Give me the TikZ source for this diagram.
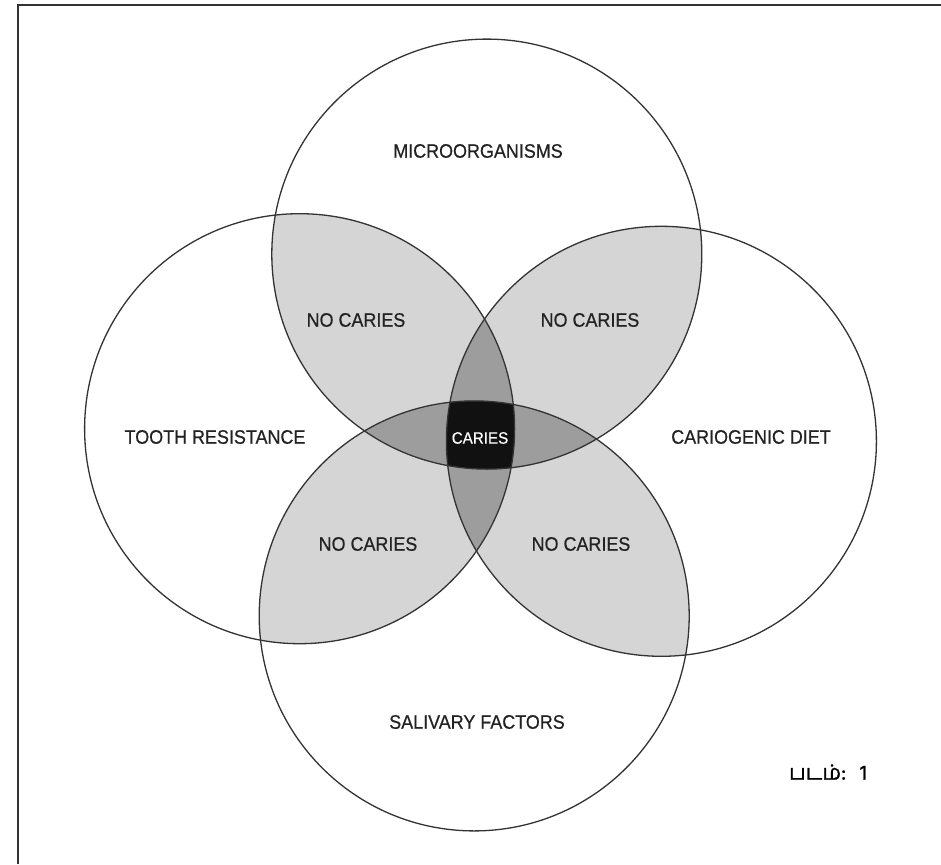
\documentclass[tikz,border=0pt]{standalone}
\usepackage{fontspec}
\setmainfont{Liberation Sans}[FakeStretch=0.92,FakeBold=0.6]
\newfontfamily\tamilfont[Script=Tamil,FakeBold=1.2]{Hind Madurai}
\definecolor{petal}{HTML}{D5D5D5}
\definecolor{triple}{HTML}{9D9D9D}
\definecolor{quad}{HTML}{111111}
\definecolor{ink}{HTML}{222222}
\definecolor{edge}{HTML}{333333}
\begin{document}
\begin{tikzpicture}[x=1pt,y=-1pt,
  lbl/.style={font=\fontsize{19.5}{20}\selectfont, text=ink, inner sep=0pt},
  ring/.style={draw=edge, line width=1.3pt},
  frameline/.style={draw=edge, line width=1.4pt}]
\useasboundingbox (0,0) rectangle (941,864);
\def\cT{(486.8,254.1) circle[radius=215pt]}
\def\cB{(474.2,615.9) circle[radius=215pt]}
\def\cL{(299.6,428.7) circle[radius=215pt]}
\def\cR{(661.4,441.3) circle[radius=215pt]}
% pairwise overlaps
\begin{scope}\clip \cT; \fill[petal] \cL; \end{scope}
\begin{scope}\clip \cT; \fill[petal] \cR; \end{scope}
\begin{scope}\clip \cB; \fill[petal] \cL; \end{scope}
\begin{scope}\clip \cB; \fill[petal] \cR; \end{scope}
\begin{scope}\clip \cT; \fill[petal] \cB; \end{scope}
\begin{scope}\clip \cL; \fill[petal] \cR; \end{scope}
% triple overlaps
\begin{scope}\clip \cT; \clip \cL; \fill[triple] \cR; \end{scope}
\begin{scope}\clip \cT; \clip \cL; \fill[triple] \cB; \end{scope}
\begin{scope}\clip \cT; \clip \cR; \fill[triple] \cB; \end{scope}
\begin{scope}\clip \cB; \clip \cL; \fill[triple] \cR; \end{scope}
% fourfold overlap
\begin{scope}\clip \cT; \clip \cB; \clip \cL; \fill[quad] \cR; \end{scope}
% outlines
\draw[ring] \cT;
\draw[ring] \cB;
\draw[ring] \cL;
\draw[ring] \cR;
% frame
\draw[frameline] (18,864) -- (18,5) -- (941,5);
% labels
\node[lbl] (micro) at (478,151) {MICROORGANISMS};
\node[lbl] (tooth) at (215,437) {TOOTH RESISTANCE};
\node[lbl] (diet) at (751,437) {CARIOGENIC DIET};
\node[lbl] (saliva) at (477,722) {SALIVARY FACTORS};
\node[lbl] (nctl) at (356,320) {NO CARIES};
\node[lbl] (nctr) at (590,320) {NO CARIES};
\node[lbl] (ncbl) at (368,544) {NO CARIES};
\node[lbl] (ncbr) at (581,544) {NO CARIES};
\node[lbl, text=white, font=\fontsize{16.5}{17}\selectfont] (caries) at (480,438) {CARIES};
\node[inner sep=0pt, text=black, font=\tamilfont\fontsize{21}{23}\selectfont] (fig) at (828,772) {படம்:\kern14pt 1};
\end{tikzpicture}
\end{document}
